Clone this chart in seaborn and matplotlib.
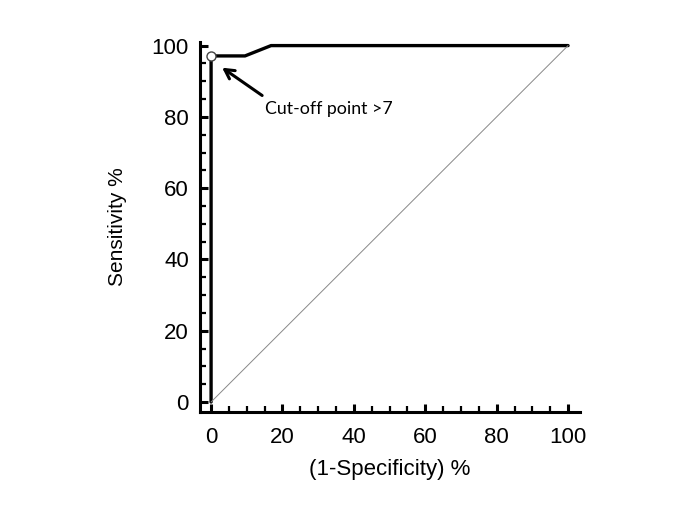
import numpy as np
import pandas as pd
import matplotlib
matplotlib.use("Agg")
import matplotlib.pyplot as plt
import seaborn as sns

# ROC curve points
fpr = [0, 0, 9.5, 16.8, 100]
tpr = [0, 97.1, 97.1, 100, 100]
diag = [0, 100]
cutoff_x, cutoff_y = 0, 97.1
cutoff_label = "Cut-off point >7"

sns.set_theme(style="white")
plt.rcParams['font.family'] = ['Liberation Sans', 'DejaVu Sans']
plt.rcParams['text.color'] = 'black'
plt.rcParams['axes.labelcolor'] = 'black'
plt.rcParams['xtick.color'] = 'black'
plt.rcParams['ytick.color'] = 'black'

fig = plt.figure(figsize=(6.85, 5.32), dpi=100)
ax = fig.add_axes([0.292, 0.2256, 0.555, 0.6954])

roc = pd.DataFrame({"fpr": fpr, "tpr": tpr})
sns.lineplot(data=roc, x="fpr", y="tpr", sort=False, estimator=None,
             color="black", linewidth=2.4, ax=ax)
sns.lineplot(x=diag, y=diag, estimator=None, color="#888888",
             linewidth=0.7, ax=ax)
ax.plot([cutoff_x], [cutoff_y], marker="o", markersize=6.5,
        markerfacecolor="white", markeredgecolor="#444444",
        markeredgewidth=1.0, zorder=5)

# arrow and label drawn separately
ax.annotate("", xy=(3.1, 93.8), xytext=(14.3, 86.0),
            arrowprops=dict(arrowstyle="->,head_length=0.55,head_width=0.3",
                            color="black", lw=2.2, shrinkA=0, shrinkB=0))
ax.text(15.1, 80.8, cutoff_label, fontsize=12.8, color="black",
        family=['Lato', 'DejaVu Sans'], va="baseline", ha="left")

ax.set_xlim(-3.1, 103.4)
ax.set_ylim(-2.8, 101)
ax.set_xticks(np.arange(0, 101, 20))
ax.set_yticks(np.arange(0, 101, 20))
ax.set_xticks(np.arange(0, 101, 5), minor=True)
ax.set_yticks(np.arange(0, 101, 5), minor=True)

for side in ["top", "right"]:
    ax.spines[side].set_visible(False)
for side in ["left", "bottom"]:
    ax.spines[side].set_color("black")
    ax.spines[side].set_linewidth(2.2)

ax.tick_params(which="major", direction="in", length=6, width=2.2,
               color="black", labelcolor="black", labelsize=16, pad=8,
               left=True, bottom=True)
ax.tick_params(axis="x", which="major", pad=11)
ax.tick_params(which="minor", direction="in", length=4.5, width=1.6,
               color="black", left=True, bottom=True)

ax.set_xlabel("(1-Specificity) %", fontsize=16, labelpad=8, color="black")
ax.set_ylabel("Sensitivity %", fontsize=15, labelpad=18, color="black")

fig.savefig("out.png", dpi=100)
